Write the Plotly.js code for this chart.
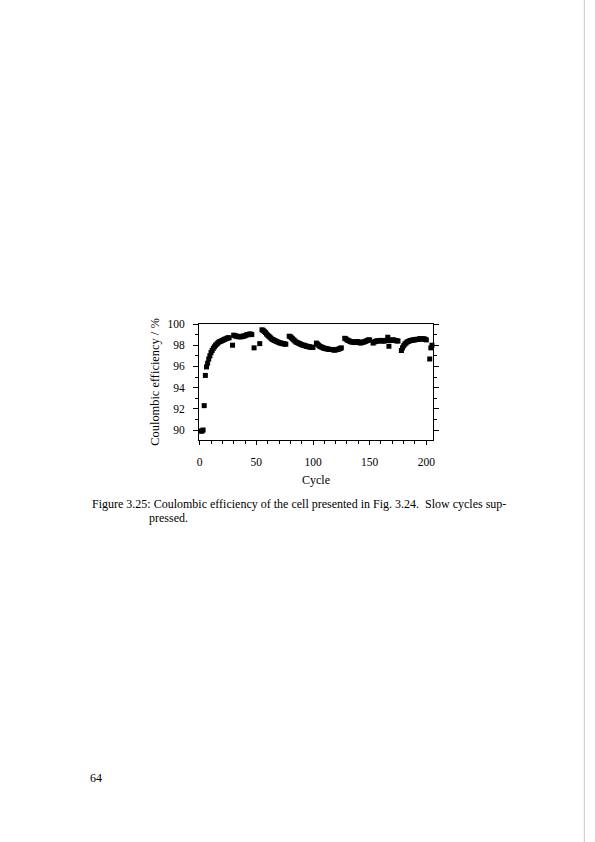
<!DOCTYPE html>
<html>
<head>
<meta charset="utf-8">
<script src="https://cdn.plot.ly/plotly-3.0.1.min.js"></script>
<style>
  html, body { margin: 0; padding: 0; background: #fff; }
  #chart { width: 595px; height: 842px; }
</style>
</head>
<body>
<div id="chart"></div>
<script>
// cycle numbers (slow cycles left out) and coulombic efficiency in %
var cycles = [
    1, 2, 3, 4, 5,
    6, 7, 8, 9, 10, 11, 12, 13, 14, 15, 16, 17, 18, 19, 20, 21, 22, 23, 24, 25, 26,
    29,
    30, 31, 32, 33, 34, 35, 36, 37, 38, 39, 40, 41, 42, 43, 44, 45, 46,
    48, 53,
    55, 56, 57, 58, 59, 60, 61, 62, 63, 64, 65, 66, 67, 68, 69, 70, 71, 72, 73, 74, 75, 76,
    79, 80, 81, 82, 83, 84, 85, 86, 87, 88, 89, 90, 91, 92, 93, 94, 95, 96, 97, 98, 99, 100,
    103, 104, 105, 106, 107, 108, 109, 110, 111, 112, 113, 114, 115, 116, 117, 118, 119, 120, 121, 122, 123, 124, 125,
    128, 129, 130, 131, 132, 133, 134, 135, 136, 137, 138, 139, 140, 141, 142, 143, 144, 145, 146, 147, 148, 149, 150,
    153, 154, 155, 156, 157, 158, 159, 160, 161, 162, 163, 164, 165, 166, 167, 168, 169, 170, 171, 172, 173, 174, 175,
    178, 179, 180, 181, 182, 183, 184, 185, 186, 187, 188, 189, 190, 191, 192, 193, 194, 195, 196, 197, 198, 199, 200,
    203, 204, 205
];

var efficiency = [
    89.9, 89.9, 90.0, 92.3, 95.15,
    95.95, 96.3, 96.7, 97.0, 97.3, 97.5, 97.7, 97.85, 98.0, 98.1, 98.2, 98.3, 98.35, 98.4, 98.45, 98.5, 98.55, 98.6, 98.65, 98.7, 98.7,
    98.0,
    98.95, 98.9, 98.85, 98.85, 98.8, 98.8, 98.8, 98.8, 98.85, 98.85, 98.9, 98.95, 99.0, 99.0, 99.05, 99.05, 99.0,
    97.75, 98.15,
    99.45, 99.4, 99.3, 99.2, 99.05, 98.95, 98.85, 98.75, 98.65, 98.55, 98.5, 98.45, 98.4, 98.35, 98.3, 98.25, 98.2, 98.2, 98.15, 98.15, 98.1, 98.1,
    98.85, 98.8, 98.7, 98.6, 98.5, 98.4, 98.3, 98.25, 98.2, 98.15, 98.1, 98.05, 98.0, 98.0, 97.95, 97.9, 97.9, 97.85, 97.85, 97.8, 97.8, 97.8,
    98.2, 98.1, 98.0, 97.9, 97.85, 97.8, 97.75, 97.7, 97.7, 97.65, 97.65, 97.6, 97.6, 97.6, 97.6, 97.55, 97.55, 97.55, 97.6, 97.6, 97.65, 97.7, 97.75,
    98.65, 98.6, 98.5, 98.45, 98.4, 98.35, 98.3, 98.3, 98.3, 98.25, 98.3, 98.35, 98.3, 98.25, 98.2, 98.25, 98.3, 98.3, 98.35, 98.4, 98.45, 98.5, 98.5,
    98.2, 98.3, 98.35, 98.4, 98.4, 98.4, 98.45, 98.45, 98.4, 98.4, 98.4, 98.45, 98.45, 98.75, 97.9, 98.45, 98.45, 98.5, 98.5, 98.45, 98.45, 98.4, 98.4,
    97.5, 97.75, 97.95, 98.1, 98.2, 98.3, 98.35, 98.4, 98.45, 98.45, 98.5, 98.5, 98.5, 98.55, 98.55, 98.55, 98.6, 98.6, 98.6, 98.6, 98.6, 98.55, 98.5,
    96.7, 97.75, 98.0
];

var xTickValues = [0, 50, 100, 150, 200];
var yTickValues = [90, 92, 94, 96, 98, 100];

var captionLine1 = 'Figure 3.25: Coulombic efficiency of the cell presented in Fig. 3.24.  Slow cycles sup-';
var captionLine2 = 'pressed.';
var pageNumber = '64';

var serif = 'Liberation Serif, DejaVu Serif, serif';

var trace = {
    x: cycles,
    y: efficiency,
    mode: 'markers',
    type: 'scatter',
    marker: { symbol: 'square', size: 5, color: '#000' },
    cliponaxis: false,
    hoverinfo: 'skip'
};

var layout = {
    width: 595,
    height: 842,
    paper_bgcolor: '#fff',
    plot_bgcolor: '#fff',
    showlegend: false,
    margin: { l: 198.7, r: 162.3, t: 324, b: 402, pad: 0 },
    font: { family: serif, size: 11.5, color: '#000' },
    xaxis: {
        range: [-0.6, 205.9],
        tickvals: xTickValues,
        ticks: 'outside',
        ticklen: 4,
        tickwidth: 1,
        tickcolor: '#000',
        minor: { dtick: 10, tick0: 0, ticks: 'outside', ticklen: 3, tickcolor: '#000' },
        showline: true,
        linecolor: '#000',
        linewidth: 1,
        mirror: true,
        showgrid: false,
        zeroline: false,
        ticklabelstandoff: 7,
        tickfont: { family: serif, size: 11.5 },
        title: { text: 'Cycle', font: { family: serif, size: 12 }, standoff: 8 }
    },
    yaxis: {
        range: [89.06, 100],
        tickvals: yTickValues,
        ticks: 'outside',
        ticklen: 5,
        tickwidth: 1,
        tickcolor: '#000',
        minor: { dtick: 1, tick0: 0, ticks: 'outside', ticklen: 3, tickcolor: '#000' },
        showline: true,
        linecolor: '#000',
        linewidth: 1,
        mirror: 'ticks',
        showgrid: false,
        zeroline: false,
        ticklabelstandoff: 6,
        tickfont: { family: serif, size: 11.5 },
        title: { text: 'Coulombic efficiency / %', font: { family: serif, size: 12.4 }, standoff: 5 }
    },
    annotations: [
        {
            text: captionLine1, xref: 'paper', yref: 'paper',
            x: -0.4645, y: -0.552, xanchor: 'left', yanchor: 'middle',
            showarrow: false, font: { family: serif, size: 12 }
        },
        {
            text: captionLine2, xref: 'paper', yref: 'paper',
            x: -0.2209, y: -0.672, xanchor: 'left', yanchor: 'middle',
            showarrow: false, font: { family: serif, size: 12 }
        },
        {
            text: pageNumber, xref: 'paper', yref: 'paper',
            x: -0.473, y: -2.914, xanchor: 'left', yanchor: 'middle',
            showarrow: false, font: { family: serif, size: 12 }
        }
    ],
    shapes: [
        // page edge at the right
        {
            type: 'line', xref: 'paper', yref: 'paper',
            x0: 1.6466, x1: 1.6466, y0: -3.5, y1: 3.8,
            line: { color: '#c8c8c8', width: 1 }
        }
    ]
};

Plotly.newPlot('chart', [trace], layout, { staticPlot: true, displayModeBar: false });
</script>
</body>
</html>
